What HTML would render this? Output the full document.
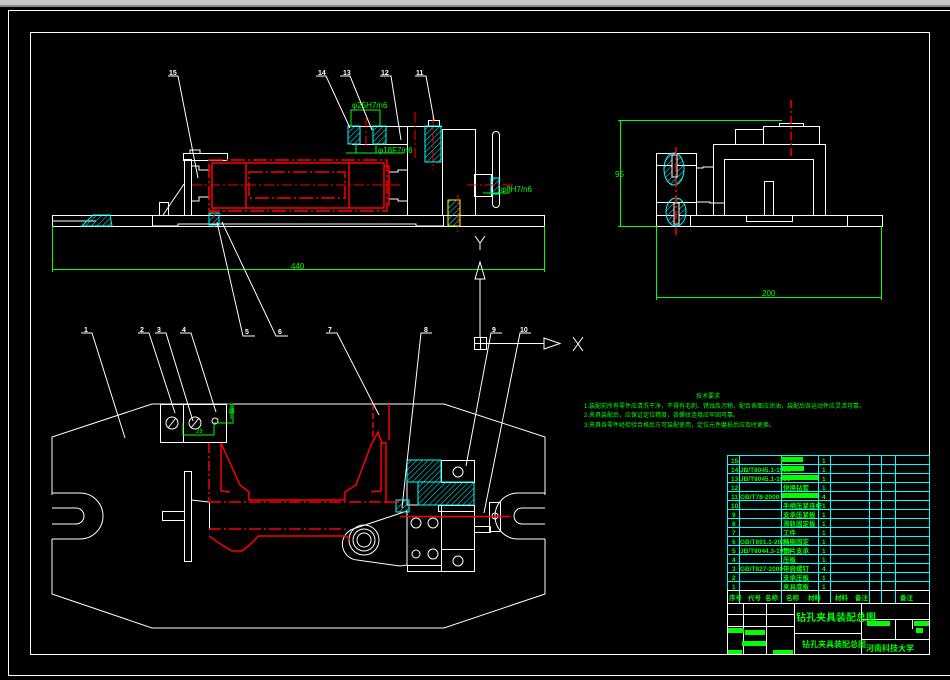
<!DOCTYPE html>
<html><head><meta charset="utf-8"><style>
html,body{margin:0;padding:0;background:#000;width:950px;height:680px;overflow:hidden}
svg{display:block}
text{font-family:"Liberation Sans","Noto Sans CJK SC",sans-serif}
</style></head><body>
<svg width="950" height="680" viewBox="0 0 950 680" xmlns="http://www.w3.org/2000/svg">
<defs>
<pattern id="hc" width="4" height="4" patternUnits="userSpaceOnUse" patternTransform="rotate(45)"><line x1="0" y1="0" x2="0" y2="4" stroke="#0ff" stroke-width="1"/></pattern>
</defs>
<rect x="0" y="0" width="950" height="5" fill="#c8c8c8"/>
<rect x="0" y="5" width="950" height="2" fill="#888"/>
<g fill="none" stroke="#fff" stroke-width="1">
<rect x="8.5" y="10.5" width="950" height="665"/>
<rect x="30.5" y="32.5" width="899" height="622"/>
</g>

<!-- TOP VIEW -->
<g fill="none" stroke="#fff" stroke-width="1">
<rect x="52.5" y="215.5" width="492" height="11"/>
<line x1="52" y1="221" x2="96" y2="221"/>
<line x1="152.5" y1="215" x2="152.5" y2="226"/>
<polyline points="152,226 178,226 178,224 416,224 416,226 443,226"/>
<line x1="443.5" y1="215" x2="443.5" y2="226"/>
<rect x="184.5" y="159.5" width="7" height="56"/>
<rect x="183.5" y="153.5" width="44" height="7"/>
<path d="M190 153 v-3 h10 v3"/>
<polyline points="192,166 199,166 199,170 209,170"/>
<polyline points="192,201 199,201 199,197 209,197"/>
<rect x="159.5" y="202.5" width="9" height="13"/>
<line x1="163" y1="215" x2="184" y2="184"/>
<polyline points="388,172 398,172 398,170 407,170"/>
<polyline points="388,199 398,199 398,201 407,201"/>
<line x1="407.5" y1="126" x2="407.5" y2="215"/>
<line x1="352" y1="126.5" x2="442" y2="126.5"/>
<line x1="352" y1="144.5" x2="407" y2="144.5"/>
<rect x="442.5" y="129.5" width="33" height="86"/>
<rect x="474.5" y="174.5" width="17" height="22"/>
<rect x="492.5" y="131.5" width="7" height="76" rx="3.5"/>
<rect x="428.5" y="120.5" width="11" height="6"/>
</g>
<rect x="348" y="126" width="12" height="18" fill="url(#hc)" stroke="#0ff" stroke-width="1"/>
<rect x="373" y="126" width="13" height="18" fill="url(#hc)" stroke="#0ff" stroke-width="1"/>
<rect x="425" y="126" width="16" height="36" fill="url(#hc)" stroke="#0ff" stroke-width="1"/>
<rect x="448" y="200" width="12" height="26" fill="url(#hc)" stroke="#ff0" stroke-width="1"/>
<rect x="209" y="213" width="10" height="12" fill="url(#hc)" stroke="#0ff" stroke-width="1"/>
<polygon points="82,226 93,215 110,215 112,226" fill="url(#hc)" stroke="#0ff"/>
<rect x="491" y="178" width="8" height="16" fill="url(#hc)" stroke="#0ff"/>
<g fill="none" stroke="#f00" stroke-width="1.5">
<rect x="209" y="160" width="178" height="51" stroke-dasharray="14,3,2,3"/>
<rect x="212" y="163" width="172" height="45"/>
<rect x="249" y="172" width="96" height="26" stroke-dasharray="14,3,2,3"/>
<line x1="246" y1="163" x2="246" y2="208"/>
<line x1="349" y1="163" x2="349" y2="208"/>
<line x1="384" y1="166" x2="389" y2="166"/><line x1="389" y1="166" x2="389" y2="206"/>
</g>
<g stroke="#f00" stroke-width="1" stroke-dasharray="10,3,2,3">
<line x1="192" y1="185" x2="402" y2="185"/>
<line x1="467" y1="185" x2="514" y2="185"/>
<line x1="366" y1="118" x2="366" y2="148"/>
<line x1="415" y1="112" x2="415" y2="160"/>
<line x1="433" y1="115" x2="433" y2="170"/>
<line x1="458" y1="195" x2="458" y2="232"/>
<line x1="214" y1="208" x2="214" y2="228"/>
</g>
<g stroke="#0f0" fill="none" stroke-width="1">
<polyline points="351,126 351,110 380,110 380,126"/>
<line x1="346" y1="153" x2="404" y2="153"/>
<line x1="356" y1="144" x2="356" y2="153"/><line x1="376" y1="144" x2="376" y2="153"/>
<line x1="483" y1="193" x2="510" y2="193"/>
<line x1="52.5" y1="226" x2="52.5" y2="272"/>
<line x1="544.5" y1="226" x2="544.5" y2="272"/>
<line x1="52" y1="269.5" x2="545" y2="269.5"/>
</g>
<g fill="#0f0" font-size="8">
<text x="352" y="108">φ25H7/n6</text>
<text x="378" y="153">φ18F7/n6</text>
<text x="501" y="192">φ8H7/n6</text>
<text x="291" y="269">440</text>
</g>
<g stroke="#fff" fill="none">
<polyline points="475,236 480,243 485,236"/><line x1="480" y1="243" x2="480" y2="250"/>
<polygon points="480,262 475,279 485,279"/>
<line x1="480" y1="279" x2="480" y2="338"/>
<rect x="474.5" y="337.5" width="12" height="12"/><line x1="480.5" y1="337" x2="480.5" y2="350"/><line x1="474" y1="343.5" x2="487" y2="343.5"/>
<line x1="487" y1="343.5" x2="544" y2="343.5"/>
<polygon points="544,338 560,343.5 544,349"/>
</g>
<path d="M573 337 L583 351 M583 337 L573 351" stroke="#fff" fill="none"/>
<g stroke="#fff" fill="none" stroke-width="1">
<polyline points="168,76 178,76 198,178"/>
<polyline points="316,76 326,76 350,128"/>
<polyline points="340,76 350,76 372,130"/>
<polyline points="380,76 391,76 401,140"/>
<polyline points="415,76 426,76 434,120"/>
<polyline points="255,336 243,336 217,222"/>
<polyline points="288,336 276,336 222,222"/>
</g>
<g fill="#fff" font-size="7" font-weight="bold">
<text x="169" y="75">15</text><text x="318" y="75">14</text><text x="343" y="75">13</text><text x="381" y="75">12</text><text x="416" y="75">11</text>
<text x="245" y="334">5</text><text x="278" y="334">6</text>
</g>

<!-- RIGHT VIEW -->
<g fill="none" stroke="#fff" stroke-width="1">
<rect x="656.5" y="215.5" width="226" height="11"/>
<line x1="690.5" y1="215" x2="690.5" y2="226"/>
<line x1="847.5" y1="215" x2="847.5" y2="226"/>
<rect x="746.5" y="215.5" width="46" height="6"/>
<rect x="713.5" y="144.5" width="112" height="71"/>
<rect x="724.5" y="159.5" width="89" height="56"/>
<rect x="764.5" y="181.5" width="9" height="34"/>
<rect x="735.5" y="129.5" width="28" height="15"/>
<rect x="763.5" y="126.5" width="56" height="18"/>
<rect x="779.5" y="123.5" width="24" height="3"/>
<rect x="656.5" y="153.5" width="40" height="62"/>
<line x1="656" y1="165.5" x2="696" y2="165.5"/>
<line x1="656" y1="202.5" x2="696" y2="202.5"/>
<polyline points="696,168 703,168 703,167 713,167"/>
<polyline points="696,202 710,202 710,203 724,203"/>
</g>
<ellipse cx="674" cy="169" rx="10" ry="16" fill="url(#hc)" stroke="#0ff"/>
<ellipse cx="676" cy="212" rx="10" ry="14" fill="url(#hc)" stroke="#0ff"/>
<rect x="672" y="155" width="5" height="22" fill="#000" stroke="#fff"/>
<rect x="674" y="203" width="5" height="21" fill="#000" stroke="#fff"/>
<g stroke="#f00" stroke-width="1.5" stroke-dasharray="8,3,2,3">
<line x1="676" y1="147" x2="676" y2="235"/>
<line x1="791" y1="100" x2="791" y2="158"/>
</g>
<g stroke="#0f0" fill="none">
<line x1="618" y1="120.5" x2="782" y2="120.5"/>
<line x1="618" y1="226.5" x2="656" y2="226.5"/>
<line x1="620.5" y1="120" x2="620.5" y2="226"/>
<line x1="656.5" y1="226" x2="656.5" y2="300"/>
<line x1="881.5" y1="226" x2="881.5" y2="300"/>
<line x1="656" y1="297.5" x2="882" y2="297.5"/>
</g>
<g fill="#0f0" font-size="8"><text x="615" y="177">95</text><text x="762" y="296">200</text></g>

<g fill="#0f0" font-size="6">
<text x="696" y="398">技术要求</text>
<text x="584" y="408">1.装配前所有零件应清洗干净，不得有毛刺、锈蚀及污物，配合表面应涂油，装配后各运动件应灵活可靠。</text>
<text x="584" y="417">2.夹具装配后，应保证定位精度，各螺纹连接应牢固可靠。</text>
<text x="584" y="427">3.夹具各零件经检验合格后方可装配使用，定位元件磨损后应及时更换。</text>
</g>

<!-- BOTTOM VIEW -->
<g fill="none" stroke="#fff" stroke-width="1">
<polyline points="52,495 52,437 152,404 444,404 545,437 545,495"/>
<polyline points="52,539 52,594 152,628 444,628 545,594 545,539"/>
<path d="M52 493 H80 A23 23 0 0 1 80 539 H52"/>
<path d="M52 508 H76 A8 8 0 0 1 76 524 H52"/>
<path d="M545 493 H518 A23 23 0 0 0 518 539 H545"/>
<path d="M545 508 H522 A8 8 0 0 0 522 524 H545"/>
<rect x="160.5" y="404.5" width="66" height="38"/>
<line x1="183.5" y1="404" x2="183.5" y2="443"/>
<circle cx="172" cy="423" r="6"/><circle cx="195" cy="423" r="6"/><circle cx="215" cy="421" r="3"/>
<line x1="168" y1="428" x2="176" y2="418"/><line x1="191" y1="428" x2="199" y2="418"/>
<rect x="184.5" y="471.5" width="7" height="90"/>
<rect x="162.5" y="511.5" width="22" height="9"/>
<polyline points="191,500 209,502 M191,532 209,530"/>
<line x1="209.5" y1="502" x2="209.5" y2="530"/>
<rect x="441.5" y="460.5" width="33" height="22"/>
<circle cx="458" cy="472" r="5"/>
<polyline points="407,460 407,505 474,505"/>
<rect x="438.5" y="505.5" width="36" height="6"/>
<rect x="441.5" y="505.5" width="33" height="66"/>
<line x1="441" y1="549.5" x2="475" y2="549.5"/>
<circle cx="458" cy="561" r="5"/>
<rect x="407.5" y="565.5" width="34" height="6"/>
<rect x="474.5" y="526.5" width="16" height="6"/>
<rect x="489.5" y="502.5" width="11" height="29"/>
<circle cx="495" cy="516" r="3"/>
<circle cx="416" cy="523" r="5"/><circle cx="433" cy="523" r="5"/><circle cx="416" cy="554" r="4"/><circle cx="433" cy="554" r="5"/>
<path d="M353 529 L398 514 L407 511 L407 565 L400 566 L357 560 A16 16 0 0 1 353 529 Z"/>
<circle cx="364" cy="540" r="15"/><circle cx="364" cy="540" r="11"/><circle cx="364" cy="540" r="7"/>
</g>
<rect x="407" y="460" width="34" height="22" fill="url(#hc)" stroke="#0ff"/>
<rect x="418" y="482" width="56" height="23" fill="url(#hc)" stroke="#0ff"/>
<rect x="396" y="500" width="13" height="12" fill="url(#hc)" stroke="#0ff"/>
<g fill="none" stroke="#f00" stroke-width="1.5">
<polyline points="209,443 209,502 M221,443 221,502" stroke-dasharray="10,3,2,3"/>
<polyline points="221,443 240,485 249,492 249,500 345,500 345,492 356,485 371,445 378,432 382,443 386,443 386,502 399,502" />
<polyline points="221,443 221,491 230,492"/>
<polyline points="371,492 381,491 381,443"/>
<line x1="373" y1="404" x2="373" y2="440" stroke-dasharray="6,3"/>
<line x1="389" y1="404" x2="389" y2="440"/>
<line x1="209" y1="502" x2="390" y2="502" stroke-dasharray="12,3,2,3"/>
<line x1="209" y1="529" x2="345" y2="529" stroke-dasharray="12,3,2,3"/>
<polyline points="209,536 216,541 227,548 232,551 242,551 246,548 254,541 258,536 345,536 350,539"/>
<line x1="400" y1="516.5" x2="510" y2="516.5"/>
</g>
<g stroke="#0f0" fill="none">
<polyline points="183,423 183,435 214,435 214,423 233,423 233,404 227,404"/>
<line x1="231" y1="404" x2="231" y2="419"/>
</g>
<g fill="#0f0" font-size="6"><text x="196" y="433">28</text><text x="228" y="413">15</text></g>
<g stroke="#fff" fill="none">
<polyline points="81,333 92,333 125,438"/>
<polyline points="138,333 149,333 175,413"/>
<polyline points="155,333 166,333 193,421"/>
<polyline points="180,333 191,333 216,412"/>
<polyline points="326,333 337,333 379,415"/>
<polyline points="432,333 421,333 402,508"/>
<polyline points="502,333 491,333 466,466"/>
<polyline points="531,333 520,333 484,513"/>
</g>
<g fill="#fff" font-size="7" font-weight="bold">
<text x="84" y="332">1</text><text x="140" y="332">2</text><text x="157" y="332">3</text><text x="182" y="332">4</text>
<text x="328" y="332">7</text><text x="424" y="332">8</text><text x="492" y="332">9</text><text x="520" y="332">10</text>
</g>

<!-- TABLE -->
<g stroke="#0ff" fill="none" stroke-width="1">
<rect x="727.5" y="455.5" width="202" height="135"/>
<line x1="727" y1="464.5" x2="930" y2="464.5"/><line x1="727" y1="473.5" x2="930" y2="473.5"/>
<line x1="727" y1="482.5" x2="930" y2="482.5"/><line x1="727" y1="491.5" x2="930" y2="491.5"/>
<line x1="727" y1="500.5" x2="930" y2="500.5"/><line x1="727" y1="509.5" x2="930" y2="509.5"/>
<line x1="727" y1="518.5" x2="930" y2="518.5"/><line x1="727" y1="527.5" x2="930" y2="527.5"/>
<line x1="727" y1="536.5" x2="930" y2="536.5"/><line x1="727" y1="545.5" x2="930" y2="545.5"/>
<line x1="727" y1="554.5" x2="930" y2="554.5"/><line x1="727" y1="563.5" x2="930" y2="563.5"/>
<line x1="727" y1="572.5" x2="930" y2="572.5"/><line x1="727" y1="581.5" x2="930" y2="581.5"/>
<line x1="739.5" y1="455" x2="739.5" y2="603"/><line x1="781.5" y1="455" x2="781.5" y2="603"/>
<line x1="818.5" y1="455" x2="818.5" y2="603"/><line x1="830.5" y1="455" x2="830.5" y2="603"/>
<line x1="869.5" y1="455" x2="869.5" y2="603"/><line x1="881.5" y1="455" x2="881.5" y2="603"/>
<line x1="895.5" y1="455" x2="895.5" y2="603"/>
</g>
<g stroke="#fff" fill="none">
<line x1="727" y1="590.5" x2="930" y2="590.5"/>
<line x1="727" y1="603.5" x2="930" y2="603.5"/>
<line x1="727.5" y1="590" x2="727.5" y2="655"/>
<line x1="794.5" y1="603" x2="794.5" y2="655"/>
<line x1="861.5" y1="603" x2="861.5" y2="655"/>
<line x1="794" y1="633.5" x2="861" y2="633.5"/>
<line x1="861" y1="619.5" x2="930" y2="619.5"/>
<line x1="861" y1="639.5" x2="930" y2="639.5"/>
<line x1="895.5" y1="619" x2="895.5" y2="639"/>
<line x1="912.5" y1="619" x2="912.5" y2="629"/>
<line x1="727" y1="614.5" x2="794" y2="614.5"/>
<line x1="727" y1="626.5" x2="794" y2="626.5"/>
<line x1="743.5" y1="603" x2="743.5" y2="655"/>
<line x1="766.5" y1="603" x2="766.5" y2="655"/>
</g>
<g fill="#0f0" font-size="6.5" font-weight="bold">
<text x="731" y="463">15</text><text x="731" y="472">14</text><text x="731" y="481">13</text><text x="731" y="490">12</text><text x="731" y="499">11</text>
<text x="731" y="508">10</text><text x="732" y="517">9</text><text x="732" y="526">8</text><text x="732" y="535">7</text><text x="732" y="544">6</text>
<text x="732" y="553">5</text><text x="732" y="562">4</text><text x="732" y="571">3</text><text x="732" y="580">2</text><text x="732" y="589">1</text>
<text x="740" y="472">JB/T8045.1-1999</text><text x="740" y="481">JB/T8045.1-1999</text><text x="740" y="499">GB/T78-2000</text>
<text x="740" y="544">GB/T891.1-2000</text><text x="740" y="553">JB/T8044.3-1999</text><text x="740" y="571">GB/T827-2000</text>
<text x="783" y="490">快换钻套</text><text x="783" y="508">手柄压紧连杆</text><text x="783" y="517">支承压紧板</text>
<text x="783" y="526">滑轨固定板</text><text x="783" y="535">工件</text><text x="783" y="544">挡圈固定</text>
<text x="783" y="553">垫片支承</text><text x="783" y="562">压板</text><text x="783" y="571">带肩螺钉</text>
<text x="783" y="580">支承压板</text><text x="783" y="589">夹具底板</text>
<text x="822" y="463">1</text><text x="822" y="472">1</text><text x="822" y="481">1</text><text x="822" y="490">1</text><text x="822" y="499">4</text>
<text x="822" y="508">1</text><text x="822" y="517">1</text><text x="822" y="526">1</text><text x="822" y="535">1</text><text x="822" y="544">1</text>
<text x="822" y="553">1</text><text x="822" y="562">1</text><text x="822" y="571">4</text><text x="822" y="580">1</text><text x="822" y="589">1</text>
<text x="729" y="600">序号</text><text x="748" y="600">代号</text><text x="765" y="600">名称</text><text x="786" y="600">名称</text><text x="808" y="600">材料</text>
<text x="835" y="600">材料</text><text x="855" y="600">备注</text><text x="900" y="600">备注</text>
<text x="796" y="621" font-size="10">钻孔夹具装配总图</text>
<text x="802" y="647" font-size="8">钻孔夹具装配总图</text>
<text x="866" y="651" font-size="8">河南科技大学</text>
</g>
<g fill="#0f0">
<rect x="781" y="457" width="22" height="5"/><rect x="782" y="466" width="22" height="5"/><rect x="782" y="475" width="36" height="5"/>
<rect x="782" y="493" width="36" height="5"/>
<rect x="867" y="621" width="23" height="5"/><rect x="914" y="621" width="15" height="5"/><rect x="916" y="628" width="7" height="5"/>
<rect x="728" y="628" width="16" height="5"/><rect x="745" y="630" width="20" height="5"/><rect x="742" y="641" width="24" height="5"/>
<rect x="773" y="650" width="20" height="4"/><rect x="728" y="650" width="14" height="4"/>
</g>
</svg>
</body></html>
